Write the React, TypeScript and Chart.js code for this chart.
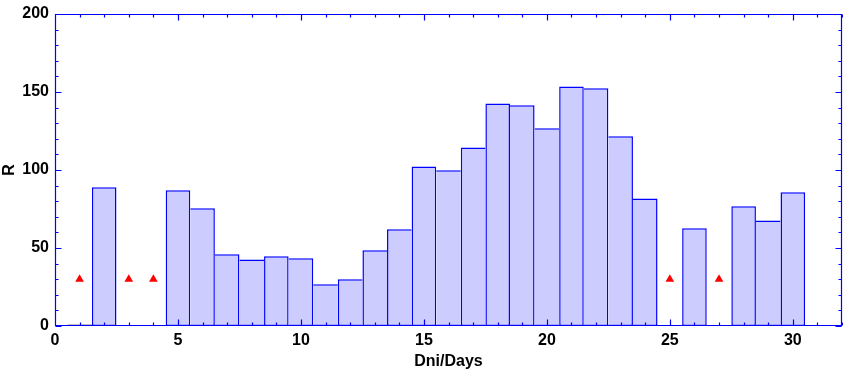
import React, { useEffect, useRef } from "react";
import { Chart, registerables } from "chart.js";

Chart.register(...registerables);

const barDays = [1, 2, 5, 6, 7, 8, 9, 10, 11, 12, 13, 14, 15, 16, 17, 18, 19, 20, 21, 22, 23, 24, 26, 28, 29, 30];
const barValues = [1, 89, 87, 75.5, 46, 42.7, 44.7, 43.4, 26.7, 29.9, 48.5, 62, 102.3, 99.8, 114.5, 142.7, 141.5, 126.7, 153.6, 152.4, 121.6, 81.8, 62.6, 76.7, 67.7, 85.7];
const markerDays = [1, 3, 4, 25, 27];
const markerValues = [30, 30, 30, 30, 30];
const xTickValues = [0, 5, 10, 15, 20, 25, 30];
const yTickValues = [0, 50, 100, 150, 200];

const BLUE = "#0000ff";
const FILL = "#ccccff";
const FONT = "'Liberation Sans', Arial, sans-serif";

function valueAt(day: number): number | null {
  const i = barDays.indexOf(day);
  return i < 0 ? null : barValues[i];
}

const framePlugin = {
  id: "frame",
  afterDatasetsDraw(chart: any) {
    const { ctx, chartArea: a, scales } = chart;
    const x = scales.x;
    const y = scales.y;
    ctx.save();
    ctx.strokeStyle = BLUE;
    ctx.lineWidth = 1.2;
    const L = Math.round(a.left) + 0.5;
    const R = Math.round(a.right) - 0.5;
    const T = Math.round(a.top) + 0.5;
    const B = Math.round(a.bottom) - 0.5;
    ctx.beginPath();
    ctx.rect(L, T, R - L, B - T);
    for (let v = 0; v <= 32; v++) {
      const px = Math.round(x.getPixelForValue(v)) + 0.5;
      const len = v % 5 === 0 ? 6 : 3;
      ctx.moveTo(px, T);
      ctx.lineTo(px, T + len);
      ctx.moveTo(px, B);
      ctx.lineTo(px, B - len);
    }
    for (let v = 0; v <= 200; v += 10) {
      const py = Math.round(y.getPixelForValue(v)) + 0.5;
      const len = v % 50 === 0 ? 6 : 3;
      ctx.moveTo(L, py);
      ctx.lineTo(L + len, py);
      ctx.moveTo(R, py);
      ctx.lineTo(R - len, py);
    }
    ctx.stroke();
    ctx.restore();
  },
};

export default function App() {
  const ref = useRef<HTMLCanvasElement | null>(null);

  useEffect(() => {
    document.body.style.margin = "0";
    const canvas = ref.current;
    if (!canvas) return;
    const chart = new Chart(canvas, {
      type: "bar",
      data: {
        datasets: [
          {
            type: "scatter",
            data: markerDays.map((d, i) => ({ x: d, y: markerValues[i] })),
            pointStyle: "triangle",
            radius: 5,
            pointRadius: 5,
            backgroundColor: "#ff0000",
            borderColor: "#ff0000",
            borderWidth: 0,
            order: 0,
          } as any,
          {
            type: "bar",
            data: barDays.map((d, i) => ({ x: d, y: barValues[i] })),
            backgroundColor: barDays.map((d) => (d === 1 ? "#000000" : FILL)),
            borderColor: barDays.map((d) => (d === 1 ? "#000000" : BLUE)),
            borderSkipped: false,
            inflateAmount: 0,
            barPercentage: 1,
            categoryPercentage: 1,
            borderWidth: (ctx: any) => {
              const d = barDays[ctx.dataIndex];
              const v = barValues[ctx.dataIndex];
              const w = 1.5;
              if (d === 1) return 1;
              const prev = valueAt(d - 1);
              const next = valueAt(d + 1);
              const left = prev !== null && prev > 1 && prev >= v ? 0 : w;
              const right = next !== null && next > v ? 0 : w;
              return { top: w, bottom: w, left, right };
            },
            order: 1,
          } as any,
        ],
      },
      options: {
        animation: false,
        responsive: false,
        devicePixelRatio: 1,
        layout: { autoPadding: false, padding: { top: 14, right: 1, left: 0, bottom: 0 } },
        plugins: { legend: { display: false }, tooltip: { enabled: false } },
        scales: {
          x: {
            type: "linear",
            min: 0,
            max: 32,
            offset: false,
            grid: { display: false, drawTicks: false, offset: false },
            border: { display: false },
            afterBuildTicks: (s: any) => {
              s.ticks = xTickValues.map((v) => ({ value: v }));
            },
            afterFit: (s: any) => {
              s.height = 45;
              s.paddingLeft = 0;
              s.paddingRight = 0;
            },
            ticks: {
              padding: 5,
              color: "#000",
              font: { family: FONT, size: 16, weight: "bold" },
              maxRotation: 0,
              autoSkip: false,
            },
            title: {
              display: true,
              text: "Dni/Days",
              color: "#000",
              font: { family: FONT, size: 16, weight: "bold" },
              padding: { top: 2, bottom: 0 },
            },
          },
          y: {
            type: "linear",
            min: 0,
            max: 200,
            grid: { display: false, drawTicks: false },
            border: { display: false },
            afterBuildTicks: (s: any) => {
              s.ticks = yTickValues.map((v) => ({ value: v }));
            },
            afterFit: (s: any) => {
              s.width = 55;
              s.paddingTop = 0;
              s.paddingBottom = 0;
            },
            ticks: {
              padding: 6,
              color: "#000",
              font: { family: FONT, size: 16, weight: "bold" },
            },
            title: {
              display: true,
              text: "R",
              color: "#000",
              font: { family: FONT, size: 16, weight: "bold" },
              padding: { top: 0, bottom: 0 },
            },
          },
        },
      },
      plugins: [framePlugin],
    } as any);
    return () => chart.destroy();
  }, []);

  return (
    <div style={{ position: "absolute", left: 0, top: 0, width: 843, height: 371, background: "#fff" }}>
      <canvas ref={ref} width={843} height={371} style={{ display: "block" }} />
    </div>
  );
}
